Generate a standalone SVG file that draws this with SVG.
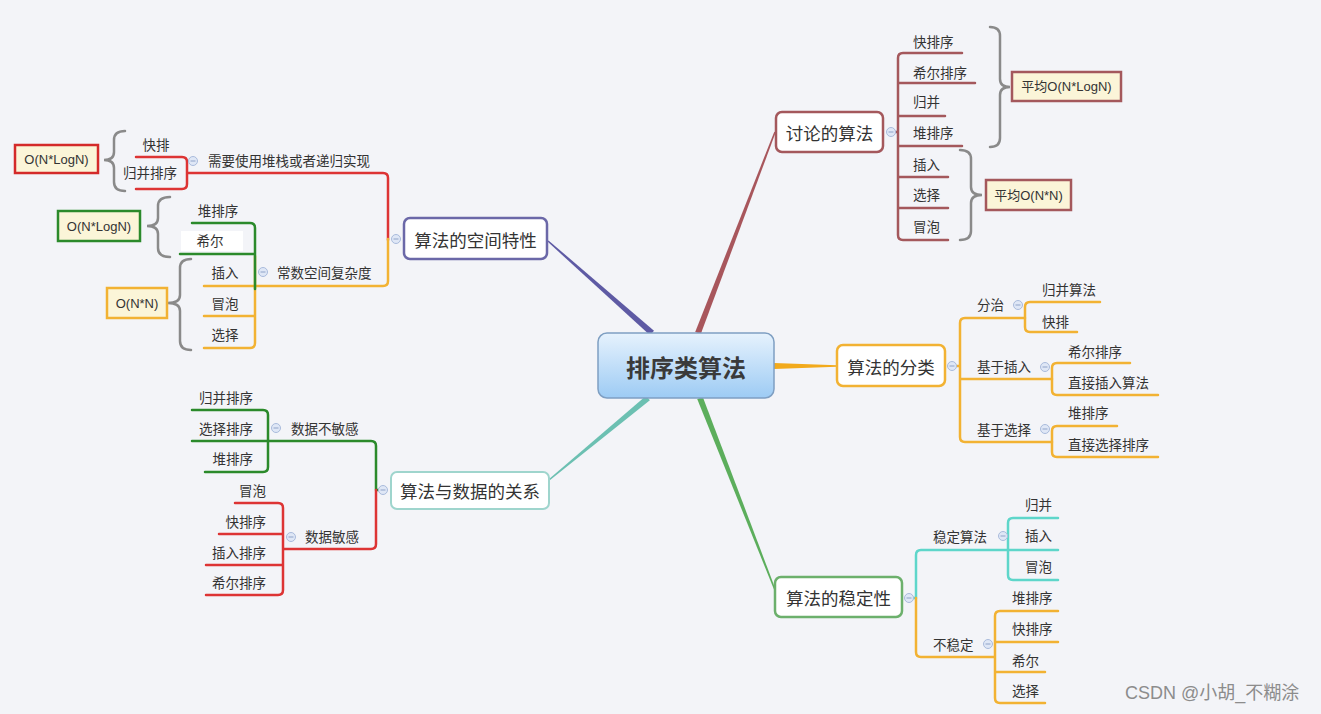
<svg xmlns="http://www.w3.org/2000/svg" xmlns:xlink="http://www.w3.org/1999/xlink" width="1321" height="714" viewBox="0 0 1321 714">
<style>
.t{font-family:"Noto Sans CJK SC","Liberation Sans",sans-serif;fill:#333;dominant-baseline:central}
.s{font-size:13.5px}
.m{font-size:17.5px}
.bx{font-family:"Liberation Sans","Noto Sans CJK SC",sans-serif;font-size:13px;fill:#333;dominant-baseline:central;text-anchor:middle}
.c{text-anchor:middle}
.e{text-anchor:end}
.l{fill:none;stroke-width:2.5;stroke-linecap:round;stroke-linejoin:round}
.red{stroke:#dd3434}.org{stroke:#f2b233}.grn{stroke:#2b8a2b}.tea{stroke:#5ed6ca}.drd{stroke:#a4585c}
.br{fill:none;stroke:#8a8a8a;stroke-width:2.5;stroke-linecap:round}
.node{fill:#fff;stroke-width:2.5}
.box{fill:#fbf5d8;stroke-width:2.5}
</style>
<defs>
<linearGradient id="cg" x1="0" y1="0" x2="0" y2="1">
<stop offset="0" stop-color="#e6f2fd"/>
<stop offset="1" stop-color="#9dcbf4"/>
</linearGradient>
<g id="col"><circle r="4.5" fill="#dfe7f6" stroke="#a9bbdc" stroke-width="1"/><path d="M-2.5,0H2.5" stroke="#8fa3c8" stroke-width="1"/></g>
</defs>
<rect width="1321" height="714" fill="#f3f4f8"/>

<g id="connectors">
<polygon points="547.5,241.6 548.5,240.4 654,330.8 650,335.2" fill="#5e5aa4"/>
<polygon points="775.7,132.3 774.3,131.7 695.2,331.9 700.8,334.1" fill="#a8565c"/>
<polygon points="837,365.2 837,366.8 774,369 774,363" fill="#f2aa1c"/>
<polygon points="549.5,480.6 548.5,479.4 646.1,395.7 649.9,400.3" fill="#6cc0b2"/>
<polygon points="774.3,590.3 775.7,589.7 702.8,396.9 697.2,399.1" fill="#5cae5c"/>

<!-- space branch -->
<path class="l red" d="M388,240 V178 Q388,173 383,173 H188"/>
<path class="l red" d="M136,157 H182 Q187,157 187,162 V184 Q187,189 182,189 H136"/>
<path class="l org" d="M388,239 V281 Q388,286 383,286 H204"/>
<path class="l org" d="M255,256 V343 Q255,348 250,348 H204 M204,316 H255"/>
<path class="l grn" d="M192,223 H250 Q255,223 255,228 V289 M180,254 H255"/>

<!-- discussion branch -->
<path class="l drd" d="M893,132 H898 M962,53 H903 Q898,53 898,58 V235 Q898,240 903,240 H948 M898,83 H975 M898,116 H945 M898,146 H962 M898,177 H948 M898,208 H948"/>

<!-- classification -->
<path class="l org" d="M955,366 H960 M1025,318 H965 Q960,318 960,323 V437 Q960,442 965,442 H1052 M960,379 H1052"/>
<path class="l org" d="M1100,302 H1030 Q1025,302 1025,307 V327 Q1025,332 1030,332 H1077"/>
<path class="l org" d="M1130,363 H1057 Q1052,363 1052,368 V390 Q1052,395 1057,395 H1158"/>
<path class="l org" d="M1117,426 H1057 Q1052,426 1052,431 V452 Q1052,457 1057,457 H1158"/>

<!-- stability -->
<path class="l tea" d="M912,598 H916 V555 Q916,550 921,550 H1058 M1058,518 H1013 Q1008,518 1008,523 V575 Q1008,580 1013,580 H1058"/>
<path class="l org" d="M916,598 V652 Q916,657 921,657 H995 M1058,611 H1000 Q995,611 995,616 V698 Q995,703 1000,703 H1045 M995,642 H1058 M995,672 H1045"/>

<!-- data relation -->
<path class="l grn" d="M380,490 H376 V446 Q376,441 371,441 H192 M192,410 H263 Q268,410 268,415 V467 Q268,472 263,472 H205"/>
<path class="l red" d="M376,490 V544 Q376,549 371,549 H283 M235,503 H278 Q283,503 283,508 V590 Q283,595 278,595 H206 M219,534 H283 M206,565 H283"/>

<!-- braces -->
<path class="br" d="M125,131 Q114,131 114,140 L114,152 Q114,160 104,160 Q114,160 114,168 L114,182 Q114,191 125,191"/>
<path class="br" d="M170,197 Q158,197 158,206 L158,218 Q158,226 147,226 Q158,226 158,234 L158,248 Q158,257 170,257"/>
<path class="br" d="M191,259 Q180,259 180,268 L180,295 Q180,303 168,303 Q180,303 180,311 L180,341 Q180,350 191,350"/>
<path class="br" d="M990,27 Q1000,27 1000,36 L1000,79 Q1000,87 1010,87 Q1000,87 1000,95 L1000,138 Q1000,147 990,147"/>
<path class="br" d="M960,150 Q971,150 971,159 L971,187 Q971,195 982,195 Q971,195 971,203 L971,231 Q971,240 960,240"/>

<use xlink:href="#col" x="396" y="239"/>
<use xlink:href="#col" x="193" y="161"/>
<use xlink:href="#col" x="263" y="272"/>
<use xlink:href="#col" x="891" y="132"/>
<use xlink:href="#col" x="952" y="366"/>
<use xlink:href="#col" x="1018" y="305"/>
<use xlink:href="#col" x="1045" y="367"/>
<use xlink:href="#col" x="1045" y="429"/>
<use xlink:href="#col" x="909" y="598"/>
<use xlink:href="#col" x="1003" y="536"/>
<use xlink:href="#col" x="988" y="644"/>
<use xlink:href="#col" x="383" y="490"/>
<use xlink:href="#col" x="276" y="428"/>
<use xlink:href="#col" x="291" y="537"/>
</g>

<g id="root">
<rect x="598" y="333" width="176" height="65" rx="9" fill="url(#cg)" stroke="#7f9fc2" stroke-width="1.5"/>
<text class="t c" x="686" y="366" style="font-size:24px;font-weight:bold;fill:#3a3a3a">排序类算法</text>
</g>

<g id="n-space">
<rect class="node" x="404" y="218" width="143" height="41" rx="6" stroke="#6b68a8"/>
<text class="t m c" x="475.5" y="239">算法的空间特性</text>
</g>
<g id="n-space-rec">
<text class="t s" x="208" y="160">需要使用堆栈或者递归实现</text>
<text class="t s c" x="156" y="144">快排</text>
<text class="t s c" x="150" y="172">归并排序</text>
</g>
<g id="n-space-const">
<text class="t s" x="277" y="272">常数空间复杂度</text>
<text class="t s c" x="218" y="210">堆排序</text>
<rect x="181" y="231" width="62" height="20" fill="#fff"/>
<text class="t s c" x="210" y="240">希尔</text>
<text class="t s c" x="225" y="272">插入</text>
<text class="t s c" x="225" y="303">冒泡</text>
<text class="t s c" x="225" y="334">选择</text>
</g>
<g id="box-left-red">
<rect class="box" x="15" y="145" width="83" height="28" stroke="#d42a2a"/>
<text class="bx" x="56.5" y="159">O(N*LogN)</text>
</g>
<g id="box-left-green">
<rect class="box" x="58" y="211" width="82" height="30" stroke="#2b8a2b"/>
<text class="bx" x="99" y="226">O(N*LogN)</text>
</g>
<g id="box-left-orange">
<rect class="box" x="107" y="288" width="60" height="30" stroke="#f2b233"/>
<text class="bx" x="137" y="303">O(N*N)</text>
</g>

<g id="n-discuss">
<rect class="node" x="776" y="112" width="107" height="40" rx="6" stroke="#a4585c"/>
<text class="t m c" x="829.5" y="132">讨论的算法</text>
<text class="t s" x="913" y="41">快排序</text>
<text class="t s" x="913" y="72">希尔排序</text>
<text class="t s" x="913" y="101">归并</text>
<text class="t s" x="913" y="132">堆排序</text>
<text class="t s" x="913" y="164">插入</text>
<text class="t s" x="913" y="194">选择</text>
<text class="t s" x="913" y="226">冒泡</text>
</g>
<g id="box-nlogn">
<rect class="box" x="1012" y="72" width="109" height="29" stroke="#a4585c"/>
<text class="bx" x="1066.5" y="86.5">平均O(N*LogN)</text>
</g>
<g id="box-nn">
<rect class="box" x="986" y="180" width="85" height="30" stroke="#a4585c"/>
<text class="bx" x="1028.5" y="195">平均O(N*N)</text>
</g>

<g id="n-class">
<rect class="node" x="837" y="345" width="108" height="41" rx="6" stroke="#f2b233"/>
<text class="t m c" x="891" y="366">算法的分类</text>
<text class="t s" x="977" y="304">分治</text>
<text class="t s" x="1042" y="289">归并算法</text>
<text class="t s" x="1042" y="321">快排</text>
<text class="t s" x="977" y="366">基于插入</text>
<text class="t s" x="1068" y="351">希尔排序</text>
<text class="t s" x="1068" y="382">直接插入算法</text>
<text class="t s" x="977" y="429">基于选择</text>
<text class="t s" x="1068" y="412">堆排序</text>
<text class="t s" x="1068" y="444">直接选择排序</text>
</g>

<g id="n-data">
<rect class="node" x="391" y="472" width="158" height="37" rx="6" stroke="#9fd5cd" style="stroke-width:2"/>
<text class="t m c" x="470" y="490.5">算法与数据的关系</text>
<text class="t s" x="291" y="428">数据不敏感</text>
<text class="t s e" x="253" y="397">归并排序</text>
<text class="t s e" x="253" y="428">选择排序</text>
<text class="t s e" x="253" y="458">堆排序</text>
<text class="t s" x="305" y="536">数据敏感</text>
<text class="t s e" x="266" y="490">冒泡</text>
<text class="t s e" x="266" y="521">快排序</text>
<text class="t s e" x="266" y="552">插入排序</text>
<text class="t s e" x="266" y="582">希尔排序</text>
</g>

<g id="n-stable">
<rect class="node" x="775" y="577" width="127" height="40" rx="6" stroke="#6cb06c"/>
<text class="t m c" x="838.5" y="597">算法的稳定性</text>
<text class="t s" x="933" y="536">稳定算法</text>
<text class="t s" x="1025" y="504">归并</text>
<text class="t s" x="1025" y="535">插入</text>
<text class="t s" x="1025" y="566">冒泡</text>
<text class="t s" x="933" y="644">不稳定</text>
<text class="t s" x="1012" y="597">堆排序</text>
<text class="t s" x="1012" y="628">快排序</text>
<text class="t s" x="1012" y="660">希尔</text>
<text class="t s" x="1012" y="690">选择</text>
</g>

<text x="1125" y="693" style="font-family:'Liberation Sans','Noto Sans CJK SC',sans-serif;font-size:18px;fill:#8c8c8c;dominant-baseline:central">CSDN @小胡_不糊涂</text>
</svg>
